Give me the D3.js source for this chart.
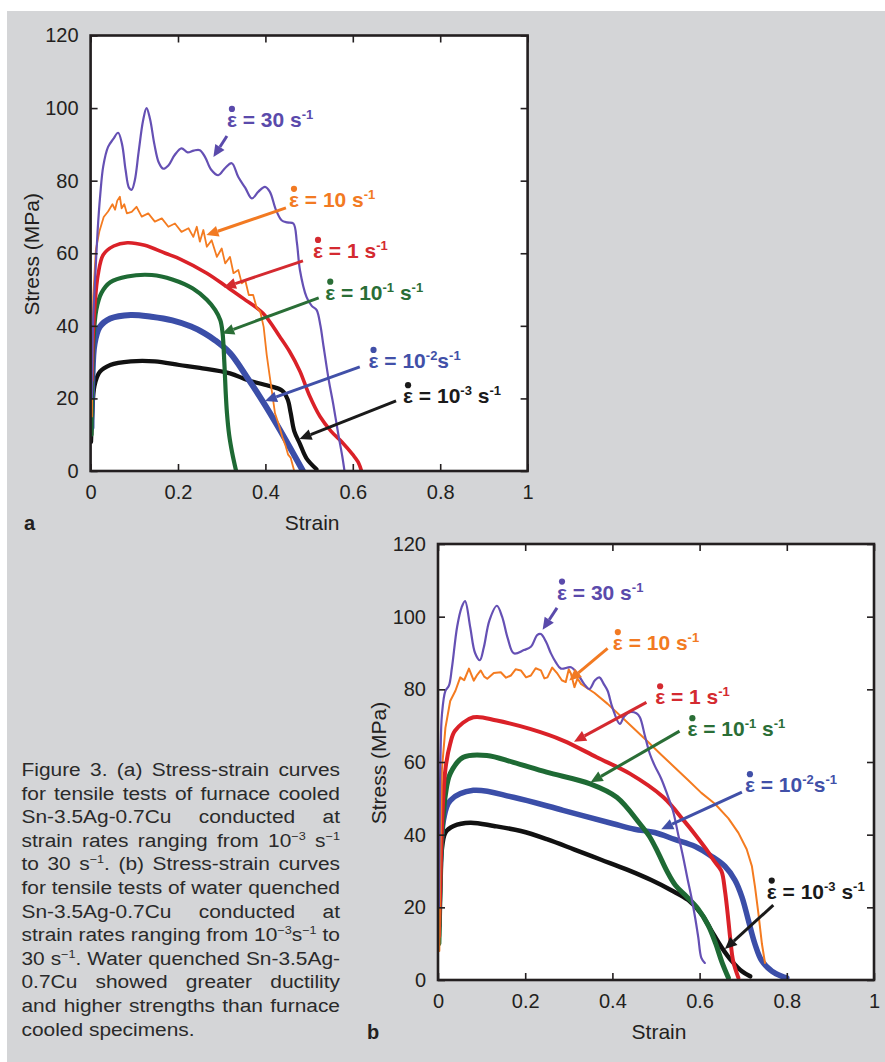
<!DOCTYPE html>
<html><head><meta charset="utf-8">
<script src="https://cdn.jsdelivr.net/npm/d3@7"></script>
<style>body{margin:0;background:#fff}svg{display:block}</style>
</head><body>
<svg id="c" width="885" height="1062"></svg>
<script>
// ---------- data ----------
const strainTicks = [0, 0.2, 0.4, 0.6, 0.8, 1];
const stressTicks = [0, 20, 40, 60, 80, 100, 120];
const rateKeys = ["r0001", "r001", "r01", "r1", "r10", "r30"]; // draw order
const rateColors = {r30: "#6550b4", r10: "#f47b20", r1: "#da2128", r01: "#1e6a34", r001: "#3b4ea8", r0001: "#111111"};
const labelColors = {r30: "#5a4aab", r10: "#f27a22", r1: "#d42a30", r01: "#2a6e36", r001: "#4150a8", r0001: "#1a1a1a"};
// label text pieces: strings are normal, {s:..} are superscripts
const rateLabels = {
  r30: [" = 30 s", {s: "-1"}],
  r10: [" = 10 s", {s: "-1"}],
  r1: [" = 1 s", {s: "-1"}],
  r01: [" = 10", {s: "-1"}, " s", {s: "-1"}],
  r001: [" = 10", {s: "-2"}, "s", {s: "-1"}],
  r0001: [" = 10", {s: "-3"}, " s", {s: "-1"}]
};

// Panel (a): furnace cooled  [strain, stress MPa]
const a30 = [[0.003,20],[0.006,42],[0.010,52],[0.016,66],[0.022,76],[0.029,84],[0.040,89.3],[0.052,91.5],[0.063,93.2],[0.072,90],[0.080,83],[0.088,78],[0.094,77.5],[0.101,80],[0.110,88],[0.120,96.5],[0.128,100],[0.136,97],[0.146,90],[0.156,85],[0.166,83.3],[0.178,84.2],[0.192,87],[0.208,88.9],[0.222,87.8],[0.236,88.3],[0.250,88.4],[0.262,86.5],[0.276,83],[0.292,81.5],[0.308,83.5],[0.323,84.8],[0.338,81],[0.354,78],[0.369,75.1],[0.384,77],[0.399,78.3],[0.410,77],[0.424,72],[0.437,69.1],[0.450,68.5],[0.464,68.2],[0.472,63],[0.479,55.4],[0.494,48],[0.506,45.5],[0.517,44.4],[0.526,40],[0.532,35.2],[0.545,25],[0.555,18.6],[0.567,10],[0.576,4],[0.581,0]];
const a10 = [[0.003,15],[0.006,48],[0.012,61],[0.020,66],[0.030,70],[0.040,71.5],[0.050,73.5],[0.056,72],[0.061,74.5],[0.067,75.6],[0.071,72.4],[0.077,73.5],[0.083,71],[0.094,71.4],[0.105,72.8],[0.117,70.1],[0.132,71],[0.147,68.7],[0.163,69.6],[0.178,67.3],[0.193,68.2],[0.208,65.9],[0.224,66.9],[0.235,64.5],[0.243,67.3],[0.250,63.2],[0.258,66.4],[0.266,61.8],[0.277,63.6],[0.289,59],[0.300,61.3],[0.308,57.2],[0.319,59],[0.327,54.5],[0.338,55.4],[0.346,51.7],[0.354,52.5],[0.362,48.5],[0.372,48.5],[0.380,45],[0.388,44],[0.396,39.7],[0.403,32],[0.410,26],[0.416,21],[0.422,15.9],[0.430,13],[0.439,9.3],[0.446,7],[0.452,4.5],[0.458,3.6],[0.466,0]];
const a1 = [[0.003,25],[0.006,38],[0.010,46],[0.017,54],[0.029,59.6],[0.053,62],[0.084,62.9],[0.124,62.2],[0.171,60],[0.205,58.4],[0.266,54.5],[0.311,50.8],[0.350,47.5],[0.395,43.4],[0.433,37],[0.455,33],[0.479,27.5],[0.500,21],[0.525,15],[0.550,11],[0.575,8],[0.600,4.5],[0.612,2.5],[0.620,0]];
const a01 = [[0.002,10],[0.004,28],[0.006,35],[0.013,44.4],[0.025,49.1],[0.045,52],[0.084,53.6],[0.140,54],[0.187,52.8],[0.234,50.3],[0.266,47.2],[0.285,44.4],[0.297,41.5],[0.302,38],[0.306,30],[0.309,22],[0.312,16],[0.317,10],[0.324,5],[0.333,0]];
const a001 = [[0.002,12],[0.004,25],[0.009,35],[0.021,39.7],[0.045,42],[0.092,43],[0.139,42.5],[0.187,41.5],[0.230,39.8],[0.260,38],[0.285,36],[0.319,32.5],[0.357,26],[0.395,19],[0.430,12],[0.463,5],[0.486,0]];
const a0001 = [[0.001,8],[0.004,16],[0.009,23.5],[0.021,27.3],[0.045,29.2],[0.092,30.2],[0.147,30.2],[0.203,29.2],[0.250,28.4],[0.319,26.9],[0.360,25],[0.407,23.5],[0.439,22.1],[0.451,19.7],[0.458,15.9],[0.466,11],[0.479,7.5],[0.494,3.5],[0.517,0.5]];

// Panel (b): water quenched
const b30 = [[0.002,20],[0.004,45],[0.006,63],[0.009,73],[0.017,79.6],[0.025,81],[0.032,86],[0.044,97.3],[0.054,102.5],[0.062,104.3],[0.074,97],[0.085,90],[0.096,88],[0.105,91.5],[0.118,99],[0.135,103],[0.147,100],[0.160,94],[0.174,89.9],[0.197,90.8],[0.213,91.7],[0.228,95],[0.236,95.2],[0.248,93],[0.259,89.9],[0.270,87.5],[0.282,85.7],[0.305,86.1],[0.320,84.3],[0.335,81.5],[0.347,80.1],[0.360,82.5],[0.370,83.3],[0.380,81.5],[0.389,79.6],[0.400,75],[0.417,70.5],[0.427,72.5],[0.440,73.7],[0.455,73.4],[0.463,72.3],[0.475,67],[0.486,62.2],[0.497,59],[0.512,55.4],[0.526,51],[0.539,46.5],[0.551,40],[0.562,34],[0.572,28],[0.581,22.9],[0.590,17],[0.597,11.7],[0.604,6.1],[0.612,4.7]];
const b10 = [[0.003,8],[0.005,30],[0.009,58],[0.017,69.4],[0.028,76.8],[0.040,79.6],[0.051,83.3],[0.060,82.5],[0.071,85.7],[0.082,82.4],[0.090,84],[0.098,85.2],[0.106,83.5],[0.113,82.9],[0.128,84.5],[0.144,84.7],[0.156,83.2],[0.167,83.8],[0.178,85.5],[0.190,85.2],[0.202,83.3],[0.213,83.8],[0.224,85.8],[0.236,85.2],[0.244,83],[0.251,83.3],[0.262,86],[0.274,84.3],[0.284,82.5],[0.293,82],[0.300,85.5],[0.305,84.3],[0.313,80.6],[0.320,83],[0.328,81.5],[0.340,80.5],[0.359,79],[0.389,76],[0.420,72.5],[0.451,69],[0.482,65.5],[0.512,62],[0.543,58.5],[0.574,55],[0.604,51.5],[0.635,48.5],[0.666,44.5],[0.689,40.5],[0.708,36],[0.720,31.3],[0.727,25.7],[0.735,18.2],[0.743,9.9],[0.750,4.7]];
const b1 = [[0.002,12],[0.005,25],[0.009,42],[0.017,58],[0.028,65],[0.039,68.6],[0.081,72.3],[0.135,71.4],[0.211,69.1],[0.287,65.9],[0.364,61.3],[0.440,56.8],[0.517,50.3],[0.563,44],[0.590,40],[0.615,36],[0.635,32.5],[0.650,30],[0.658,24.7],[0.666,16.4],[0.670,11.7],[0.677,5.2],[0.689,0.6]];
const b01 = [[0.002,10],[0.005,25],[0.009,40],[0.017,51],[0.028,56.8],[0.058,61.3],[0.112,61.8],[0.173,59.9],[0.249,57.2],[0.349,54],[0.410,50.3],[0.463,43],[0.485,39.5],[0.505,35],[0.525,30],[0.545,26],[0.570,23],[0.597,19.5],[0.620,15],[0.637,10],[0.651,5],[0.666,0.6]];
const b001 = [[0.002,15],[0.005,30],[0.013,44.3],[0.028,49.4],[0.081,52.2],[0.173,50.3],[0.287,46.7],[0.402,43],[0.451,41.5],[0.497,40.6],[0.543,38.7],[0.589,36.8],[0.628,34],[0.658,31.3],[0.681,27.5],[0.697,22.9],[0.712,16.4],[0.727,9.9],[0.743,5.2],[0.766,2.4],[0.789,1],[0.800,0.6]];
const b0001 = [[0.002,12],[0.004,21],[0.008,35],[0.017,40.6],[0.036,42.4],[0.074,43.3],[0.128,42.4],[0.190,41],[0.251,38.7],[0.313,35.9],[0.374,33.1],[0.435,30.3],[0.489,27.5],[0.535,24.7],[0.574,22],[0.604,18.2],[0.627,13.6],[0.651,8.9],[0.674,5.2],[0.697,2.4],[0.716,1]];

// annotation anchors in data units: label [strain, stress], arrow from -> to
const aNotes = {
  r30: {label: [0.312, 94.8], from: [0.312, 92.3], to: [0.281, 86.5]},
  r10: {label: [0.454, 72.8], from: [0.447, 72.5], to: [0.265, 65.0]},
  r1: {label: [0.509, 58.7], from: [0.486, 57.9], to: [0.305, 50.6]},
  r01: {label: [0.537, 47.2], from: [0.522, 47.7], to: [0.301, 37.9]},
  r001: {label: [0.636, 28.4], from: [0.616, 28.7], to: [0.399, 19.3]},
  r0001: {label: [0.715, 18.7], from: [0.699, 19.3], to: [0.478, 8.8]}
};
const bNotes = {
  r30: {label: [0.273, 104.7], from: [0.273, 102.4], to: [0.240, 96.4]},
  r10: {label: [0.401, 90.8], from: [0.389, 91.3], to: [0.301, 82.4]},
  r1: {label: [0.498, 75.9], from: [0.478, 76.4], to: [0.312, 65.6]},
  r01: {label: [0.572, 67.1], from: [0.554, 68.5], to: [0.350, 54.4]},
  r001: {label: [0.704, 51.7], from: [0.697, 51.7], to: [0.512, 41.5]},
  r0001: {label: [0.754, 22.4], from: [0.769, 20.6], to: [0.658, 8.5]}
};

const captionLines = [
  "Figure 3. (a) Stress-strain curves",
  "for tensile tests of furnace cooled",
  "Sn-3.5Ag-0.7Cu conducted at",
  "strain rates ranging from 10^{−3} s^{−1}",
  "to 30 s^{−1}. (b) Stress-strain curves",
  "for tensile tests of water quenched",
  "Sn-3.5Ag-0.7Cu conducted at",
  "strain rates ranging from 10^{−3}s^{−1} to",
  "30 s^{−1}. Water quenched Sn-3.5Ag-",
  "0.7Cu showed greater ductility",
  "and higher strengths than furnace",
  "cooled specimens."
];

// ---------- drawing ----------
const FONT = "'Liberation Sans', Arial, Helvetica, sans-serif";
const svg = d3.select("#c");
svg.append("rect").attr("x", 7).attr("y", 11).attr("width", 878).attr("height", 1051).attr("fill", "#d4d5d7");

const strokeW = {
  a: {r30: 2.2, r10: 1.8, r1: 3.6, r01: 4.2, r001: 6, r0001: 4.2},
  b: {r30: 2.2, r10: 2, r1: 4, r01: 5, r001: 5.5, r0001: 4.5}
};

function drawPanel(cfg) {
  const x = d3.scaleLinear().domain([0, 1]).range([cfg.left, cfg.right]);
  const y = d3.scaleLinear().domain([0, 120]).range([cfg.bottom, cfg.top]);
  const g = svg.append("g");
  g.append("rect").attr("x", cfg.left).attr("y", cfg.top)
    .attr("width", cfg.right - cfg.left).attr("height", cfg.bottom - cfg.top).attr("fill", "#fff");

  const clip = "clip" + cfg.id;
  svg.append("defs").append("clipPath").attr("id", clip).append("rect")
    .attr("x", cfg.left).attr("y", cfg.top - 20).attr("width", cfg.right - cfg.left).attr("height", cfg.bottom - cfg.top + 20);

  const curves = g.append("g").attr("clip-path", `url(#${clip})`);
  rateKeys.forEach(k => {
    const data = cfg.series[k];
    const smooth = (k === "r10") ? d3.curveLinear : d3.curveCatmullRom.alpha(0.5);
    const line = d3.line().x(d => x(d[0])).y(d => y(d[1])).curve(smooth);
    curves.append("path").attr("d", line(data)).attr("fill", "none")
      .attr("stroke", rateColors[k]).attr("stroke-width", strokeW[cfg.id][k])
      .attr("stroke-linejoin", "round").attr("stroke-linecap", "round");
  });

  // axes (inward ticks on all four sides)
  const ax = (sel, axis) => {
    sel.call(axis);
    sel.select(".domain").remove();
    sel.selectAll(".tick line").attr("stroke", "#231f20").attr("stroke-width", 1.6);
    sel.selectAll("text").attr("font-family", FONT).attr("font-size", 20).attr("fill", "#231f20");
  };
  ax(g.append("g").attr("transform", `translate(0,${cfg.bottom})`),
    d3.axisBottom(x).tickValues(strainTicks).tickFormat(d3.format("~g")).tickSize(-7).tickPadding(14));
  ax(g.append("g").attr("transform", `translate(0,${cfg.top})`),
    d3.axisTop(x).tickValues(strainTicks).tickFormat("").tickSize(-7));
  ax(g.append("g").attr("transform", `translate(${cfg.left},0)`),
    d3.axisLeft(y).tickValues(stressTicks).tickFormat(d3.format("~g")).tickSize(-7).tickPadding(12));
  ax(g.append("g").attr("transform", `translate(${cfg.right},0)`),
    d3.axisRight(y).tickValues(stressTicks).tickFormat("").tickSize(-7));

  g.append("rect").attr("x", cfg.left).attr("y", cfg.top)
    .attr("width", cfg.right - cfg.left).attr("height", cfg.bottom - cfg.top)
    .attr("fill", "none").attr("stroke", "#231f20").attr("stroke-width", 2.6);

  // axis titles
  g.append("text").attr("x", (cfg.left + cfg.right) / 2 + 3).attr("y", cfg.bottom + 59)
    .attr("text-anchor", "middle").attr("font-family", FONT).attr("font-size", 21).attr("fill", "#231f20").text("Strain");
  g.append("text").attr("transform", `translate(${cfg.left - 52},${(cfg.top + cfg.bottom) / 2 + 1}) rotate(-90)`)
    .attr("text-anchor", "middle").attr("font-family", FONT).attr("font-size", 21).attr("fill", "#231f20").text("Stress (MPa)");
  g.append("text").attr("x", cfg.letterX).attr("y", cfg.bottom + 59)
    .attr("font-family", FONT).attr("font-weight", "bold").attr("font-size", 20).attr("fill", "#231f20").text(cfg.letter);

  // annotations
  rateKeys.forEach(k => {
    const n = cfg.notes[k];
    const col = labelColors[k];
    const x1 = x(n.from[0]), y1 = y(n.from[1]), x2 = x(n.to[0]), y2 = y(n.to[1]);
    const ang = Math.atan2(y2 - y1, x2 - x1);
    const hl = 12, hw = 5.5;
    const bx = x2 - hl * Math.cos(ang), by = y2 - hl * Math.sin(ang);
    g.append("line").attr("x1", x1).attr("y1", y1).attr("x2", bx).attr("y2", by)
      .attr("stroke", col).attr("stroke-width", 3);
    g.append("path").attr("fill", col).attr("d",
      `M${x2},${y2}L${bx + hw * Math.sin(ang)},${by - hw * Math.cos(ang)}L${bx - hw * Math.sin(ang)},${by + hw * Math.cos(ang)}Z`);

    const lx = x(n.label[0]), ly = y(n.label[1]);
    const t = g.append("text").attr("x", lx).attr("y", ly).attr("fill", col)
      .attr("font-family", FONT).attr("font-weight", "bold").attr("font-size", 21);
    t.append("tspan").text("ε");
    let off = 0;
    rateLabels[k].forEach(p => {
      if (typeof p === "string") {
        t.append("tspan").attr("font-size", 21).attr("dy", -off).text(p);
        off = 0;
      } else {
        t.append("tspan").attr("font-size", 13).attr("dy", -8 - off).text(p.s);
        off = -8;
      }
    });
    const ew = t.node().getSubStringLength(0, 1);
    g.append("circle").attr("cx", lx + ew / 2).attr("cy", ly - 18).attr("r", 3.1).attr("fill", col);
  });
}

drawPanel({id: "a", left: 90.6, right: 527.6, top: 35.5, bottom: 471, letter: "a", letterX: 24,
  series: {r30: a30, r10: a10, r1: a1, r01: a01, r001: a001, r0001: a0001}, notes: aNotes});
drawPanel({id: "b", left: 438, right: 874, top: 544, bottom: 980, letter: "b", letterX: 367,
  series: {r30: b30, r10: b10, r1: b1, r01: b01, r001: b001, r0001: b0001}, notes: bNotes});

// ---------- caption ----------
const capLeft = 21.5, capRight = 340, capTop = 776, capLH = 23.6;
const capOuter = svg.append("g");
const cap = capOuter.append("g").attr("font-family", FONT).attr("font-size", 19).attr("fill", "#2a2a2a");
function addWord(parent, word) {
  const t = parent.append("text");
  const re = /\^\{([^}]*)\}/g;
  let last = 0, m, off = 0;
  while ((m = re.exec(word)) !== null) {
    if (m.index > last) { t.append("tspan").attr("dy", -off).text(word.slice(last, m.index)); off = 0; }
    t.append("tspan").attr("font-size", 11.5).attr("dy", -7 - off).text(m[1]);
    off = -7;
    last = re.lastIndex;
  }
  if (last < word.length) { t.append("tspan").attr("dy", -off).text(word.slice(last)); }
  return t;
}
const spaceW = 5.3;
const capRows = captionLines.map((line, i) => {
  const words = line.split(" ");
  const els = words.map(w => addWord(cap, w).attr("y", capTop + i * capLH));
  const widths = els.map(e => e.node().getComputedTextLength());
  return {words, els, widths, natural: d3.sum(widths) + spaceW * (words.length - 1)};
});
// horizontal stretch so the longest natural line fills the column
const kx = Math.min(1.2, Math.max(1, (capRight - capLeft) / d3.max(capRows, r => r.natural)));
const colW = (capRight - capLeft) / kx;
cap.attr("transform", `translate(${capLeft},0) scale(${kx},1)`);
capRows.forEach((r, i) => {
  const total = d3.sum(r.widths);
  const justify = i < capRows.length - 1 && r.words.length > 1;
  const space = justify ? (colW - total) / (r.words.length - 1) : spaceW;
  let cx = 0;
  r.els.forEach((e, j) => { e.attr("x", cx); cx += r.widths[j] + space; });
});
</script>
</body></html>
